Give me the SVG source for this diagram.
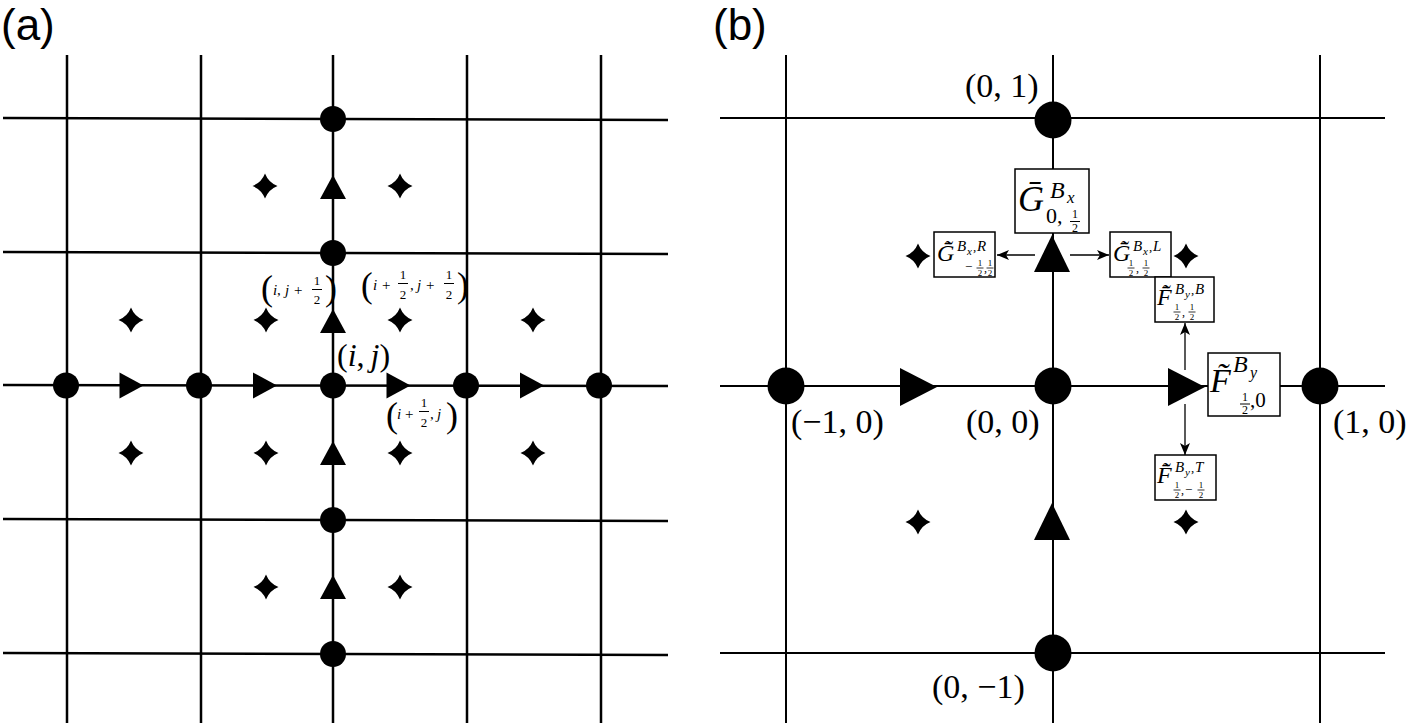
<svg xmlns="http://www.w3.org/2000/svg" width="1411" height="723" viewBox="0 0 1411 723">
<style>
.ln{stroke:#000;stroke-width:2.5;fill:none}
.lb{stroke:#000;stroke-width:2;fill:none}
.m{font-family:"Liberation Serif","DejaVu Serif",serif;font-style:italic;fill:#000}
.r{font-family:"Liberation Serif","DejaVu Serif",serif;font-style:normal;fill:#000}
.i{font-style:italic}
.lab{font-family:"Liberation Sans",Arial,sans-serif;font-size:44px;fill:#000}
.box{fill:#fff;stroke:#000;stroke-width:1.5}
.arr{stroke:#000;stroke-width:1.3;fill:none;marker-end:url(#ah)}
.fb{stroke:#000;stroke-width:1}
.fs{stroke:#000;stroke-width:0.8}
.c{text-anchor:middle}
</style>
<defs>
<marker id="ah" viewBox="0 0 12 10" refX="12" refY="5" markerWidth="12" markerHeight="10" markerUnits="userSpaceOnUse" orient="auto">
<path d="M0,0 L12,5 L0,10 L3,5 Z" fill="#000"/>
</marker>
<polygon id="tra" points="-12,-13 12,0 -12,13" fill="#000"/>
<polygon id="tua" points="-13,12 0,-12 13,12" fill="#000"/>
<polygon id="trb" points="-18,-19 19,0 -18,19" fill="#000"/>
<polygon id="tub" points="-18,18 0,-19 18,18" fill="#000"/>
<path id="st" d="M0,-12.5 Q3.5,-3.5 12.5,0 Q3.5,3.5 0,12.5 Q-3.5,3.5 -12.5,0 Q-3.5,-3.5 0,-12.5Z" fill="#000"/>
</defs>
<rect width="1411" height="723" fill="#fff"/>

<text class="lab" x="1" y="40">(a)</text>
<text class="lab" x="713" y="40">(b)</text>

<!-- Panel (a) grid -->
<g id="grid-a">
<line class="ln" x1="3" y1="118" x2="668" y2="120"/>
<line class="ln" x1="3" y1="252" x2="668" y2="254"/>
<line class="ln" x1="3" y1="385" x2="668" y2="386"/>
<line class="ln" x1="3" y1="519" x2="668" y2="521"/>
<line class="ln" x1="3" y1="653" x2="668" y2="655"/>
<line class="ln" x1="67" y1="55" x2="67" y2="723"/>
<line class="ln" x1="201" y1="55" x2="201" y2="723"/>
<line class="ln" x1="333" y1="55" x2="333" y2="723"/>
<line class="ln" x1="467" y1="55" x2="467" y2="723"/>
<line class="ln" x1="601" y1="55" x2="601" y2="723"/>
</g>
<g id="nodes-a">
<circle cx="333" cy="119" r="13"/>
<circle cx="333" cy="253" r="13"/>
<circle cx="66" cy="385.5" r="13"/>
<circle cx="199" cy="385.5" r="13"/>
<circle cx="333" cy="385.5" r="13"/>
<circle cx="466" cy="385.5" r="13"/>
<circle cx="599" cy="385.5" r="13"/>
<circle cx="333" cy="520" r="13"/>
<circle cx="333" cy="654" r="13"/>
</g>
<g id="faces-a">
<use href="#tra" x="131.5" y="385.5"/>
<use href="#tra" x="265" y="385.5"/>
<use href="#tra" x="398.5" y="385.5"/>
<use href="#tra" x="532" y="385.5"/>
<use href="#tua" x="333" y="187"/>
<use href="#tua" x="333" y="321"/>
<use href="#tua" x="333" y="453"/>
<use href="#tua" x="333" y="587"/>
</g>
<g id="corners-a">
<use href="#st" x="265" y="186"/>
<use href="#st" x="400" y="186"/>
<use href="#st" x="131" y="320"/>
<use href="#st" x="266" y="320"/>
<use href="#st" x="400" y="320"/>
<use href="#st" x="533" y="320"/>
<use href="#st" x="131" y="453"/>
<use href="#st" x="266" y="453"/>
<use href="#st" x="400" y="453"/>
<use href="#st" x="533" y="453"/>
<use href="#st" x="266" y="587"/>
<use href="#st" x="400" y="587"/>
</g>
<g id="labels-a">
<text class="r" x="337" y="366" font-size="32">(<tspan class="i">i</tspan>,<tspan class="i" dx="6">j</tspan>)</text>
<g id="lab-ijh">
<text class="r" font-size="15"><tspan x="261" y="300" font-size="36">(</tspan><tspan class="i" x="273" y="295">i</tspan><tspan x="277" y="295">,</tspan><tspan class="i" x="285" y="295">j</tspan><tspan x="294" y="295">+</tspan><tspan class="c" x="317" y="285" font-size="13">1</tspan><tspan class="c" x="317" y="304" font-size="13">2</tspan><tspan x="325" y="300" font-size="36">)</tspan></text>
<line class="fb" x1="312" y1="289.5" x2="322" y2="289.5"/>
</g>
<g id="lab-ihjh">
<text class="r" font-size="15"><tspan x="361" y="297" font-size="35">(</tspan><tspan class="i" x="373" y="290">i</tspan><tspan x="382" y="290">+</tspan><tspan class="c" x="403" y="279" font-size="13">1</tspan><tspan class="c" x="403" y="299" font-size="13">2</tspan><tspan x="410" y="290">,</tspan><tspan class="i" x="417" y="290">j</tspan><tspan x="426" y="290">+</tspan><tspan class="c" x="449" y="279" font-size="13">1</tspan><tspan class="c" x="449" y="299" font-size="13">2</tspan><tspan x="457" y="297" font-size="35">)</tspan></text>
<line class="fb" x1="398" y1="283.5" x2="408" y2="283.5"/>
<line class="fb" x1="444" y1="283.5" x2="454" y2="283.5"/>
</g>
<g id="lab-ihj">
<text class="r" font-size="15"><tspan x="386" y="427" font-size="36">(</tspan><tspan class="i" x="397" y="419">i</tspan><tspan x="405" y="419">+</tspan><tspan class="c" x="424" y="407" font-size="13">1</tspan><tspan class="c" x="424" y="427" font-size="13">2</tspan><tspan x="430" y="419">,</tspan><tspan class="i" x="437" y="419">j</tspan><tspan x="446" y="427" font-size="36">)</tspan></text>
<line class="fb" x1="419" y1="411.5" x2="429" y2="411.5"/>
</g>
</g>

<!-- Panel (b) grid -->
<g id="grid-b">
<line class="lb" x1="720" y1="118" x2="1385" y2="118"/>
<line class="lb" x1="720" y1="386" x2="1385" y2="386"/>
<line class="lb" x1="720" y1="653" x2="1385" y2="653"/>
<line class="lb" x1="786" y1="55" x2="786" y2="723"/>
<line class="lb" x1="1053" y1="55" x2="1053" y2="723"/>
<line class="lb" x1="1320" y1="55" x2="1320" y2="723"/>
</g>
<g id="nodes-b">
<circle cx="1053" cy="120" r="18.5"/>
<circle cx="786" cy="386" r="18.5"/>
<circle cx="1053" cy="386" r="18.5"/>
<circle cx="1320" cy="386" r="18.5"/>
<circle cx="1053" cy="653" r="18.5"/>
</g>
<g id="faces-b">
<use href="#trb" x="918" y="387"/>
<use href="#trb" x="1186" y="387"/>
<use href="#tub" x="1052" y="254"/>
<use href="#tub" x="1052" y="522"/>
</g>
<g id="corners-b">
<use href="#st" x="918" y="256"/>
<use href="#st" x="1186" y="256"/>
<use href="#st" x="918" y="522"/>
<use href="#st" x="1186" y="522"/>
</g>
<g id="connectors">
<line class="arr" x1="1035" y1="255" x2="997" y2="255"/>
<line class="arr" x1="1070" y1="255" x2="1109" y2="255"/>
<line class="arr" x1="1185" y1="370" x2="1185" y2="323"/>
<line class="arr" x1="1185" y1="404" x2="1185" y2="455"/>
</g>
<g id="labels-b">
<text class="r" x="965" y="97" font-size="34">(0, 1)</text>
<text class="r" x="791" y="433" font-size="34">(−1, 0)</text>
<text class="r" x="966" y="433" font-size="34">(0, 0)</text>
<text class="r" x="1333" y="433" font-size="34">(1, 0)</text>
<text class="r" x="932" y="698" font-size="34">(0, −1)</text>
</g>

<g id="box-G">
<rect class="box" x="1015" y="169" width="74" height="64"/>
<text class="r"><tspan class="i" x="1018" y="211" font-size="36">G&#x304;</tspan><tspan class="i" x="1050" y="198" font-size="24">B</tspan><tspan class="i" x="1067" y="203" font-size="17">x</tspan><tspan x="1046" y="223" font-size="22">0,</tspan><tspan class="c" x="1075" y="218" font-size="12">1</tspan><tspan class="c" x="1075" y="232" font-size="12">2</tspan></text>
<line class="fb" x1="1070" y1="221.5" x2="1080" y2="221.5"/>
</g>
<g id="box-GR">
<rect class="box" x="934" y="232" width="61" height="45"/>
<text class="r"><tspan class="i" x="937" y="261" font-size="24">G&#x34F;&#x304;&#x303;</tspan><tspan class="i" x="957" y="251" font-size="15">B</tspan><tspan class="i" x="967" y="255" font-size="11">x</tspan><tspan x="973" y="251" font-size="13">,</tspan><tspan class="i" x="977" y="251" font-size="15">R</tspan><tspan x="965" y="271" font-size="13">−</tspan><tspan class="c" x="980" y="266" font-size="9">1</tspan><tspan class="c" x="980" y="276" font-size="9">2</tspan><tspan x="984" y="272" font-size="12">,</tspan><tspan class="c" x="990" y="266" font-size="9">1</tspan><tspan class="c" x="990" y="276" font-size="9">2</tspan></text>
<line class="fs" x1="976.5" y1="268" x2="983.5" y2="268"/>
<line class="fs" x1="986.5" y1="268" x2="993.5" y2="268"/>
</g>
<g id="box-GL">
<rect class="box" x="1110" y="232" width="61" height="45"/>
<text class="r"><tspan class="i" x="1113" y="261" font-size="24">G&#x34F;&#x304;&#x303;</tspan><tspan class="i" x="1133" y="251" font-size="15">B</tspan><tspan class="i" x="1143" y="255" font-size="11">x</tspan><tspan x="1149" y="251" font-size="13">,</tspan><tspan class="i" x="1153" y="251" font-size="15">L</tspan><tspan class="c" x="1131" y="266" font-size="9">1</tspan><tspan class="c" x="1131" y="276" font-size="9">2</tspan><tspan x="1136" y="272" font-size="12">,</tspan><tspan class="c" x="1146" y="266" font-size="9">1</tspan><tspan class="c" x="1146" y="276" font-size="9">2</tspan></text>
<line class="fs" x1="1127.5" y1="268" x2="1134.5" y2="268"/>
<line class="fs" x1="1142.5" y1="268" x2="1149.5" y2="268"/>
</g>
<g id="box-FB">
<rect class="box" x="1155" y="277" width="59" height="45"/>
<text class="r"><tspan class="i" x="1157" y="305" font-size="24">F&#x304;&#x303;</tspan><tspan class="i" x="1175" y="294" font-size="15">B</tspan><tspan class="i" x="1185" y="298" font-size="11">y</tspan><tspan x="1191" y="294" font-size="13">,</tspan><tspan class="i" x="1195" y="294" font-size="15">B</tspan><tspan class="c" x="1177" y="310" font-size="9">1</tspan><tspan class="c" x="1177" y="320" font-size="9">2</tspan><tspan x="1182" y="316" font-size="12">,</tspan><tspan class="c" x="1192" y="310" font-size="9">1</tspan><tspan class="c" x="1192" y="320" font-size="9">2</tspan></text>
<line class="fs" x1="1173.5" y1="312" x2="1180.5" y2="312"/>
<line class="fs" x1="1188.5" y1="312" x2="1195.5" y2="312"/>
</g>
<g id="box-F">
<rect class="box" x="1208" y="353" width="72" height="63"/>
<text class="r"><tspan class="i" x="1210" y="392" font-size="34">F&#x303;</tspan><tspan class="i" x="1233" y="372" font-size="24">B</tspan><tspan class="i" x="1250" y="378" font-size="16">y</tspan><tspan class="c" x="1245" y="401" font-size="12">1</tspan><tspan class="c" x="1245" y="414" font-size="12">2</tspan><tspan x="1250" y="407" font-size="21">,0</tspan></text>
<line class="fb" x1="1240" y1="404" x2="1250" y2="404"/>
</g>
<g id="box-FT">
<rect class="box" x="1155" y="455" width="61" height="45"/>
<text class="r"><tspan class="i" x="1157" y="483" font-size="24">F&#x304;&#x303;</tspan><tspan class="i" x="1175" y="472" font-size="15">B</tspan><tspan class="i" x="1185" y="476" font-size="11">y</tspan><tspan x="1191" y="472" font-size="13">,</tspan><tspan class="i" x="1195" y="472" font-size="15">T</tspan><tspan class="c" x="1177" y="488" font-size="9">1</tspan><tspan class="c" x="1177" y="498" font-size="9">2</tspan><tspan x="1181" y="494" font-size="12">,</tspan><tspan x="1185" y="494" font-size="13">−</tspan><tspan class="c" x="1201" y="488" font-size="9">1</tspan><tspan class="c" x="1201" y="498" font-size="9">2</tspan></text>
<line class="fs" x1="1173.5" y1="490" x2="1180.5" y2="490"/>
<line class="fs" x1="1197.5" y1="490" x2="1204.5" y2="490"/>
</g>
</svg>
